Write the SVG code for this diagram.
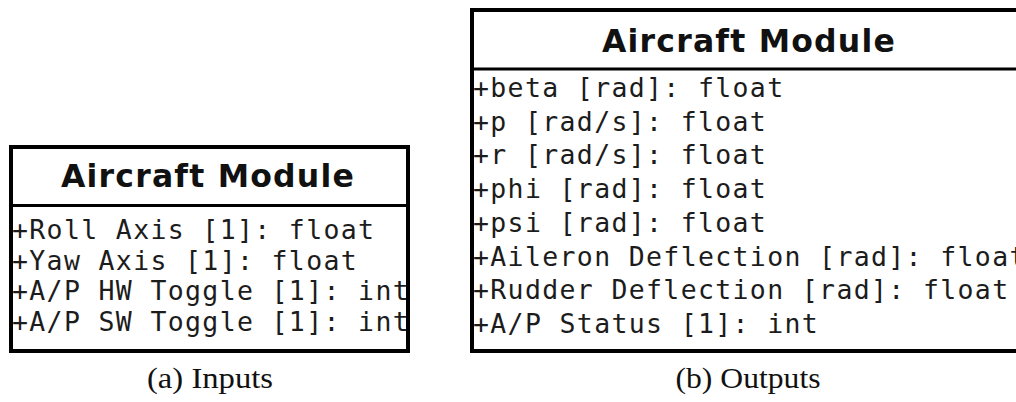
<svg xmlns="http://www.w3.org/2000/svg" width="1016" height="402" viewBox="0 0 1016 402">
  <style>
    .frame { fill: none; stroke: #000; stroke-width: 4; }
    .sep { stroke: #000; stroke-width: 3; }
    .title { font-family: "DejaVu Sans", "Liberation Sans", sans-serif; font-weight: bold; font-size: 31.5px; letter-spacing: 1.2px; text-anchor: middle; fill: #111; }
    .attr { font-family: "DejaVu Sans Mono", "Liberation Mono", monospace; font-size: 26.5px; letter-spacing: 1.35px; fill: #1c1c1c; }
    .caption { font-family: "Liberation Serif", "DejaVu Serif", serif; font-size: 29px; text-anchor: middle; fill: #111; }
  </style>
  <defs>
    <clipPath id="clipInputs"><rect x="11" y="147" width="397" height="204"/></clipPath>
    <clipPath id="clipOutputs"><rect x="472" y="10" width="600" height="341"/></clipPath>
  </defs>
  <rect width="1016" height="402" fill="#fff"/>

  <!-- (a) input class box -->
  <g id="inputs">
    <g clip-path="url(#clipInputs)">
      <text class="title" x="208" y="187">Aircraft Module</text>
      <text class="attr" x="12" y="239">+Roll Axis [1]: float</text>
      <text class="attr" x="12" y="269.5">+Yaw Axis [1]: float</text>
      <text class="attr" x="12" y="300">+A/P HW Toggle [1]: int</text>
      <text class="attr" x="12" y="330.5">+A/P SW Toggle [1]: int</text>
    </g>
    <line class="sep" x1="11" y1="205.5" x2="408" y2="205.5"/>
    <rect class="frame" x="11" y="147" width="397" height="204"/>
    <text class="caption" x="210" y="388" textLength="126" lengthAdjust="spacingAndGlyphs">(a) Inputs</text>
  </g>

  <!-- (b) output class box -->
  <g id="outputs">
    <g clip-path="url(#clipOutputs)">
      <text class="title" x="749" y="52">Aircraft Module</text>
      <text class="attr" x="473" y="97">+beta [rad]: float</text>
      <text class="attr" x="473" y="130.7">+p [rad/s]: float</text>
      <text class="attr" x="473" y="164.4">+r [rad/s]: float</text>
      <text class="attr" x="473" y="198.1">+phi [rad]: float</text>
      <text class="attr" x="473" y="231.8">+psi [rad]: float</text>
      <text class="attr" x="473" y="265.5">+Aileron Deflection [rad]: float</text>
      <text class="attr" x="473" y="299.2">+Rudder Deflection [rad]: float</text>
      <text class="attr" x="473" y="332.9">+A/P Status [1]: int</text>
    </g>
    <line class="sep" x1="472" y1="69" x2="1016" y2="69"/>
    <rect class="frame" x="472" y="10" width="600" height="341"/>
    <text class="caption" x="748" y="388" textLength="145" lengthAdjust="spacingAndGlyphs">(b) Outputs</text>
  </g>

  <g id="connectors"/>
</svg>
